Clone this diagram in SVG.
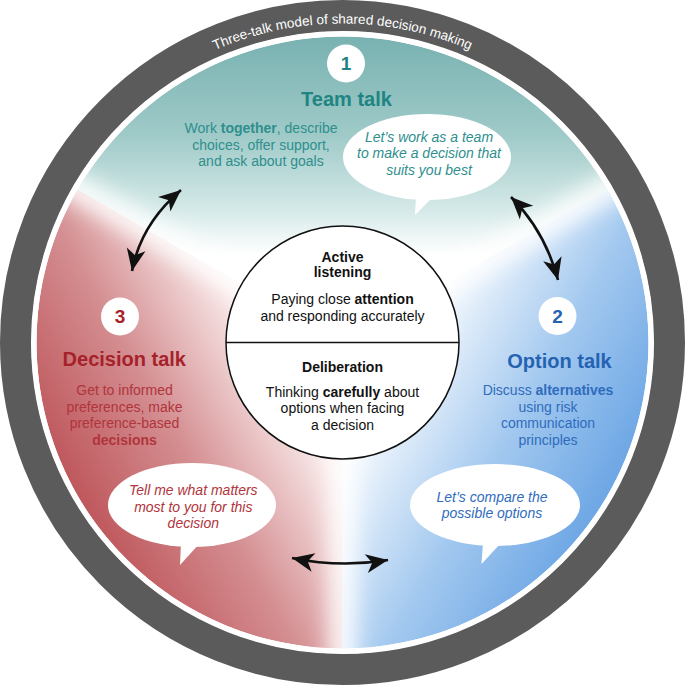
<svg xmlns="http://www.w3.org/2000/svg" width="685" height="685" viewBox="0 0 685 685">
  <style>
    text { font-family: "Liberation Sans", Arial, sans-serif; }
    .c { text-anchor: middle; }
    .title { font-size: 20px; font-weight: bold; }
    .body { font-size: 14px; }
    .it { font-size: 14px; font-style: italic; }
    .num { font-size: 19px; font-weight: bold; text-anchor: middle; }
    .teal { fill: #1f8583; }
    .tealT { fill: #2e8f8d; }
    .red { fill: #a6222a; }
    .redT { fill: #b0353c; }
    .blue { fill: #2463b2; }
    .blueT { fill: #2f6cbd; }
    .blk { fill: #111111; }
    .bubble { fill: #ffffff; }
    .arrow { fill: none; stroke: #111111; stroke-width: 2.6; marker-start: url(#ah); marker-end: url(#ah); }
  </style>
  <defs>
    <linearGradient id="gTeal" gradientUnits="userSpaceOnUse" x1="342" y1="37" x2="342" y2="255">
      <stop offset="0" stop-color="#78b2b1"/>
      <stop offset="0.45" stop-color="#9fcac8"/>
      <stop offset="0.8" stop-color="#d6eae9"/>
      <stop offset="1" stop-color="#ffffff"/>
    </linearGradient>
    <linearGradient id="gRed" gradientUnits="userSpaceOnUse" x1="70" y1="500" x2="285" y2="378">
      <stop offset="0" stop-color="#bd5459"/>
      <stop offset="0.5" stop-color="#d48e91"/>
      <stop offset="1" stop-color="#fbeeee"/>
    </linearGradient>
    <linearGradient id="gBlue" gradientUnits="userSpaceOnUse" x1="615" y1="500" x2="400" y2="378">
      <stop offset="0" stop-color="#69a4e4"/>
      <stop offset="0.5" stop-color="#a2c8ef"/>
      <stop offset="1" stop-color="#f3f8fd"/>
    </linearGradient>
    <clipPath id="disc"><circle cx="342.5" cy="342.5" r="306"/></clipPath>
    <filter id="soft" x="-50%" y="-50%" width="200%" height="200%">
      <feGaussianBlur stdDeviation="11"/>
    </filter>
    <marker id="ah" viewBox="-2 -11 26 22" refX="22" refY="0" markerWidth="26" markerHeight="22" markerUnits="userSpaceOnUse" orient="auto-start-reverse">
      <path d="M22,0 L0,-9.5 L6,0 L0,9.5 Z" fill="#111111"/>
    </marker>
    <path id="titleArc" d="M 23.5,342.5 A 319 319 0 0 1 661.5,342.5"/>
  </defs>

  <g id="ring">
    <circle cx="342.5" cy="342.5" r="327" fill="none" stroke="#5b5b5b" stroke-width="31"/>
    <circle cx="342.5" cy="342.5" r="311" fill="#ffffff"/>
    <text font-size="13.5" fill="#ffffff"><textPath href="#titleArc" startOffset="50%" text-anchor="middle">Three-talk model of shared decision making</textPath></text>
  </g>

  <g id="sectors" clip-path="url(#disc)">
    <path d="M342.5,342.5 L77.5,189.5 A306,306 0 0 1 607.5,189.5 Z" fill="url(#gTeal)"/>
    <path d="M342.5,342.5 L607.5,189.5 A306,306 0 0 1 342.5,648.5 Z" fill="url(#gBlue)"/>
    <path d="M342.5,342.5 L342.5,648.5 A306,306 0 0 1 77.5,189.5 Z" fill="url(#gRed)"/>
    <g filter="url(#soft)" stroke="#ffffff" stroke-width="24" stroke-linecap="round">
      <line x1="342.5" y1="342.5" x2="60" y2="179"/>
      <line x1="342.5" y1="342.5" x2="625" y2="179"/>
      <line x1="342.5" y1="342.5" x2="342.5" y2="670"/>
      <circle cx="342.5" cy="342.5" r="95" fill="#ffffff" stroke="none"/>
    </g>
  </g>

  <g id="connectors">
    <path class="arrow" d="M132,271 Q141,224 181,190"/>
    <path class="arrow" d="M511,197 Q545,231 558,280"/>
    <path class="arrow" d="M292,558 Q340,568 388,560"/>
  </g>

  <g id="center-node">
    <circle cx="342.5" cy="342.5" r="116.5" fill="#ffffff" stroke="#111111" stroke-width="1.5"/>
    <line x1="226" y1="342.5" x2="459" y2="342.5" stroke="#111111" stroke-width="1.5"/>
    <text class="c blk body" font-weight="bold" x="342.5" y="261.5">Active</text>
    <text class="c blk body" font-weight="bold" x="342.5" y="277">listening</text>
    <text class="c blk body" x="342.5" y="304">Paying close <tspan font-weight="bold">attention</tspan></text>
    <text class="c blk body" x="342.5" y="320.5">and responding accurately</text>
    <text class="c blk body" font-weight="bold" x="342.5" y="371.5">Deliberation</text>
    <text class="c blk body" x="342.5" y="396.5">Thinking <tspan font-weight="bold">carefully</tspan> about</text>
    <text class="c blk body" x="342.5" y="413">options when facing</text>
    <text class="c blk body" x="342.5" y="430">a decision</text>
  </g>

  <g id="team-talk">
    <circle cx="346" cy="63.5" r="19" fill="#ffffff"/>
    <text class="num teal" x="346" y="70">1</text>
    <text class="c title teal" x="346.5" y="106">Team talk</text>
    <text class="c body tealT" x="261" y="133">Work <tspan font-weight="bold">together</tspan>, describe</text>
    <text class="c body tealT" x="261" y="149.5">choices, offer support,</text>
    <text class="c body tealT" x="261" y="166">and ask about goals</text>
    <g id="team-bubble">
      <ellipse class="bubble" cx="427" cy="157" rx="84" ry="43"/>
      <path class="bubble" d="M416,196 L415,215 L433,197 Z"/>
      <text class="c it tealT" x="429" y="141.5">Let’s work as a team</text>
      <text class="c it tealT" x="429" y="158">to make a decision that</text>
      <text class="c it tealT" x="429" y="175">suits you best</text>
    </g>
  </g>

  <g id="option-talk">
    <circle cx="557.5" cy="316" r="19" fill="#ffffff"/>
    <text class="num blue" x="557.5" y="323">2</text>
    <text class="c title blue" x="559.5" y="368">Option talk</text>
    <text class="c body blueT" x="548" y="395">Discuss <tspan font-weight="bold">alternatives</tspan></text>
    <text class="c body blueT" x="548" y="411.7">using risk</text>
    <text class="c body blueT" x="548" y="428.3">communication</text>
    <text class="c body blueT" x="548" y="445">principles</text>
    <g id="option-bubble">
      <ellipse class="bubble" cx="495" cy="505" rx="85" ry="41"/>
      <path class="bubble" d="M483,543 L481.5,564 L501,543 Z"/>
      <text class="c it blueT" x="492" y="501.5">Let’s compare the</text>
      <text class="c it blueT" x="492" y="518.3">possible options</text>
    </g>
  </g>

  <g id="decision-talk">
    <circle cx="120" cy="316.5" r="19" fill="#ffffff"/>
    <text class="num red" x="120" y="323">3</text>
    <text class="c title red" x="124.3" y="366">Decision talk</text>
    <text class="c body redT" x="124.5" y="395">Get to informed</text>
    <text class="c body redT" x="124.5" y="411.7">preferences, make</text>
    <text class="c body redT" x="124.5" y="428.3">preference-based</text>
    <text class="c body redT" x="124.5" y="445" font-weight="bold">decisions</text>
    <g id="decision-bubble">
      <ellipse class="bubble" cx="192" cy="505" rx="84" ry="42"/>
      <path class="bubble" d="M181,543 L180,565 L200,543 Z"/>
      <text class="c it redT" x="193.3" y="495">Tell me what matters</text>
      <text class="c it redT" x="193.3" y="511.7">most to you for this</text>
      <text class="c it redT" x="193.3" y="528.3">decision</text>
    </g>
  </g>
</svg>
